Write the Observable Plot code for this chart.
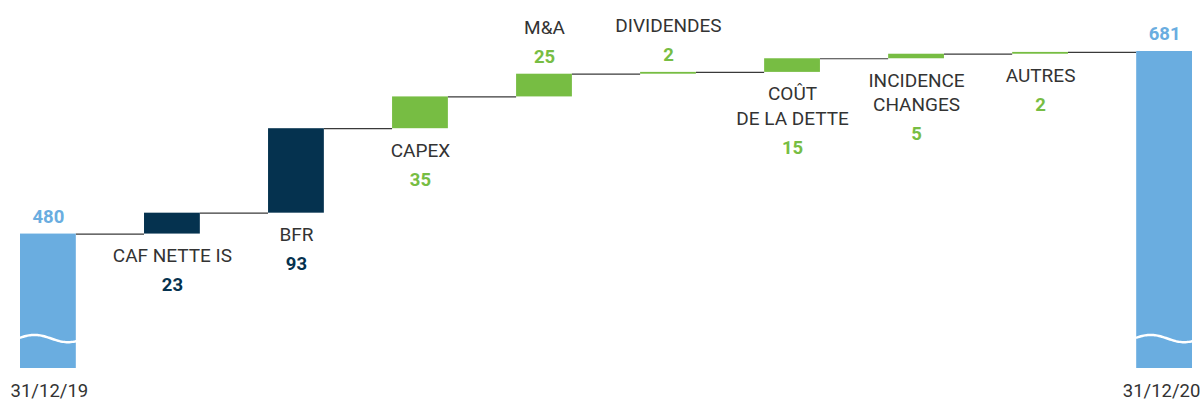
<!DOCTYPE html>
<html><head><meta charset="utf-8">
<script src="https://cdn.jsdelivr.net/npm/d3@7"></script>
<script src="https://cdn.jsdelivr.net/npm/@observablehq/plot@0.6"></script>
<style>body{margin:0;background:#fff;}</style>
</head><body><div id="chart"></div>
<script>
// ---- data ----
const categories = ["31/12/19","CAF NETTE IS","BFR","CAPEX","M&A","DIVIDENDES","COÛT\nDE LA DETTE","INCIDENCE\nCHANGES","AUTRES","31/12/20"];
const values = [480, 23, 93, 35, 25, 2, 15, 5, 2, 681];
const kinds = ["total","navy","navy","green","green","green","green","green","green","total"];
const labelsAbove = ["M&A","DIVIDENDES"];
const yMin = 332; // truncated axis base

// ---- derived ----
const colors = {total:"#6aade0", navy:"#05324f", green:"#77bd43"};
let level = 0;
const rows = categories.map((c, i) => {
  const kind = kinds[i];
  let y1, y2;
  if (kind === "total") { y1 = yMin; y2 = values[i]; }
  else { y1 = level; y2 = level + values[i]; }
  level = y2;
  return {i, name: c, lines: c.split("\n"), value: values[i], kind, y1, y2,
          lo: Math.min(y1, y2), hi: Math.max(y1, y2),
          above: kind === "total" || labelsAbove.includes(c)};
});
const hw = 0.225;
const totals = rows.filter(d => d.kind === "total");
const above = rows.filter(d => d.above);
const aboveLabeled = above.filter(d => d.kind !== "total");
const below = rows.filter(d => !d.above);
const below2 = below.filter(d => d.lines.length > 1);
const below1 = below.filter(d => d.lines.length === 1);

// decorative axis-break wave across total bars
const wave = [];
for (const d of totals) {
  for (let s = 0; s <= 40; s++) {
    const t = s / 40;
    wave.push({i: d.i, x: d.i - hw + 2 * hw * t, y: 365 + 4 * Math.cos(2 * Math.PI * (t - 0.25) / 1.2)});
  }
}

const labelFill = "#333333";
const chart = Plot.plot({
  width: 1201, height: 401,
  marginTop: 51, marginBottom: 33, marginLeft: 20, marginRight: 9,
  style: {fontFamily: "Roboto, sans-serif", background: "#fff"},
  x: {domain: [-hw, categories.length - 1 + hw], axis: null},
  y: {domain: [yMin, 681], axis: null},
  color: {type: "identity"},
  marks: [
    Plot.ruleY(rows.slice(0, -1), {y: "y2", x1: d => d.i + hw, x2: d => d.i + 1 - hw, stroke: "#3a3a3a", strokeWidth: 1.2}),
    Plot.rectY(rows, {x1: d => d.i - hw, x2: d => d.i + hw, y1: "y1", y2: "y2", fill: d => colors[d.kind]}),
    Plot.line(wave, {x: "x", y: "y", z: "i", stroke: "white", strokeWidth: 2.5}),
    // below labels
    Plot.text(below, {x: "i", y: "lo", text: d => d.lines[0], dy: 22, fontSize: 19, fill: labelFill, lineAnchor: "middle"}),
    Plot.text(below2, {x: "i", y: "lo", text: d => d.lines[1], dy: 46.5, fontSize: 19, fill: labelFill, lineAnchor: "middle"}),
    Plot.text(below1, {x: "i", y: "lo", text: d => String(d.value), dy: 51, fontSize: 18.5, fontWeight: 700, fill: d => colors[d.kind], lineAnchor: "middle"}),
    Plot.text(below2, {x: "i", y: "lo", text: d => String(d.value), dy: 75.5, fontSize: 18.5, fontWeight: 700, fill: d => colors[d.kind], lineAnchor: "middle"}),
    // above labels
    Plot.text(above, {x: "i", y: "hi", text: d => String(d.value), dy: -17, fontSize: 18.5, fontWeight: 700, fill: d => colors[d.kind], lineAnchor: "middle"}),
    Plot.text(aboveLabeled, {x: "i", y: "hi", text: d => d.lines[0], dy: -46, fontSize: 19, fill: labelFill, lineAnchor: "middle"}),
    // date labels
    Plot.text(totals.slice(0, 1), {x: "i", y: yMin, text: "name", dy: 23, dx: 1, fontSize: 18.5, fill: labelFill, lineAnchor: "middle"}),
    Plot.text(totals.slice(1), {x: "i", y: yMin, text: "name", dy: 23, dx: -3, fontSize: 18.5, fill: labelFill, lineAnchor: "middle"})
  ]
});
document.getElementById("chart").append(chart);
</script>
</body></html>
